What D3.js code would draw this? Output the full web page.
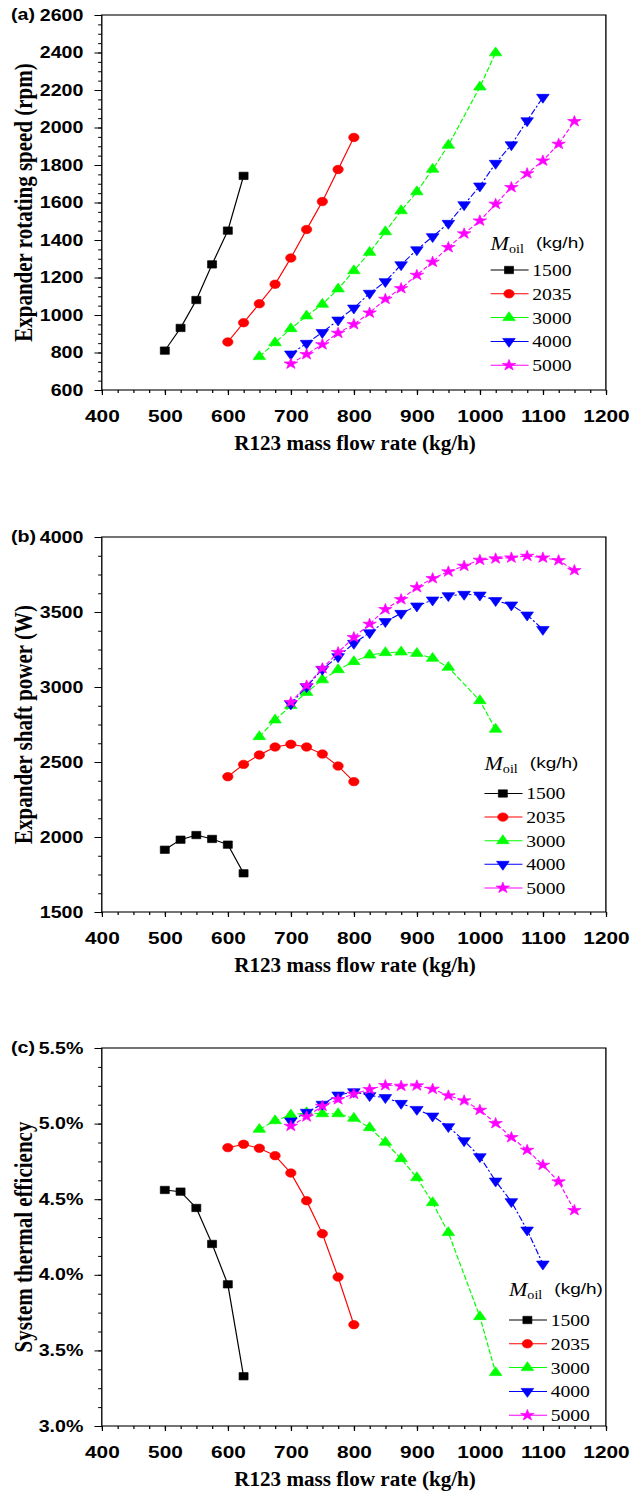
<!DOCTYPE html>
<html>
<head>
<meta charset="utf-8">
<script src="https://cdn.jsdelivr.net/npm/d3@7"></script>
<style>
  body { margin: 0; background: #fff; }
  svg { display: block; }
</style>
</head>
<body>
<script>
// R123 mass flow rate (kg/h) for each oil flow series
var flow1500 = [500, 525, 550, 575, 600, 625];
var flow2035 = [600, 625, 650, 675, 700, 725, 750, 775, 800];
var flow3000 = [650, 675, 700, 725, 750, 775, 800, 825, 850, 875, 900, 925, 950, 1000, 1025];
var flow4000 = [700, 725, 750, 775, 800, 825, 850, 875, 900, 925, 950, 975, 1000, 1025, 1050, 1075, 1100];
var flow5000 = [700, 725, 750, 775, 800, 825, 850, 875, 900, 925, 950, 975, 1000, 1025, 1050, 1075, 1100, 1125, 1150];

// (a) expander rotating speed (rpm)
var speed1500 = [810, 931, 1080, 1270, 1450, 1742];
var speed2035 = [856, 959, 1060, 1164, 1304, 1456, 1605, 1776, 1947];
var speed3000 = [778, 852, 927, 995, 1057, 1139, 1236, 1334, 1444, 1556, 1657, 1777, 1905, 2216, 2398];
var speed4000 = [792, 849, 907, 973, 1037, 1116, 1178, 1268, 1348, 1418, 1489, 1588, 1688, 1809, 1908, 2036, 2161];
var speed5000 = [740, 790, 843, 904, 950, 1012, 1085, 1142, 1213, 1283, 1361, 1434, 1503, 1592, 1681, 1755, 1823, 1912, 2033];

// (b) expander shaft power (W)
var power1500 = [1915, 1982, 2013, 1987, 1949, 1758];
var power2035 = [2402, 2484, 2547, 2600, 2618, 2600, 2553, 2473, 2369];
var power3000 = [2669, 2780, 2876, 2964, 3048, 3115, 3169, 3213, 3229, 3233, 3224, 3191, 3131, 2909, 2718];
var power4000 = [2887, 3002, 3118, 3202, 3291, 3362, 3436, 3491, 3540, 3580, 3609, 3618, 3613, 3576, 3547, 3480, 3384];
var power5000 = [2898, 3009, 3124, 3231, 3331, 3420, 3518, 3584, 3664, 3724, 3769, 3807, 3847, 3856, 3862, 3873, 3862, 3844, 3778];

// (c) system thermal efficiency (%)
var eff1500 = [4.561, 4.550, 4.442, 4.204, 3.937, 3.329];
var eff2035 = [4.841, 4.863, 4.837, 4.788, 4.673, 4.490, 4.272, 3.985, 3.670];
var eff3000 = [4.962, 5.019, 5.057, 5.072, 5.065, 5.065, 5.035, 4.973, 4.876, 4.768, 4.642, 4.477, 4.279, 3.723, 3.353];
var eff4000 = [5.017, 5.075, 5.128, 5.189, 5.211, 5.185, 5.172, 5.134, 5.094, 5.050, 4.980, 4.887, 4.781, 4.620, 4.484, 4.296, 4.071];
var eff5000 = [4.984, 5.046, 5.116, 5.160, 5.196, 5.227, 5.253, 5.249, 5.251, 5.229, 5.185, 5.152, 5.090, 5.002, 4.909, 4.825, 4.726, 4.616, 4.427];

var seriesNames = ['1500', '2035', '3000', '4000', '5000'];
var flowTicks = [400, 500, 600, 700, 800, 900, 1000, 1100, 1200];
var speedTicks = [600, 800, 1000, 1200, 1400, 1600, 1800, 2000, 2200, 2400, 2600];
var powerTicks = [1500, 2000, 2500, 3000, 3500, 4000];
var effTicks = [3.0, 3.5, 4.0, 4.5, 5.0, 5.5];

var colors = ['#000000', '#ff0000', '#00ff00', '#0000ff', '#ff00ff'];
var dashes = [null, null, '5,2', '6,2,2,2', '4,2'];
var flows = [flow1500, flow2035, flow3000, flow4000, flow5000];

// the figure is drawn in a narrower frame and stretched sideways, like the source image
var W = 641, H = 1493;
var stretch = 1.2265;
var left = 83, right = 494;
var tickFont = '"Liberation Sans Narrow", "Arial Narrow", "Liberation Sans", Arial, sans-serif';
var serif = '"Liberation Serif", "Times New Roman", serif';

var svg = d3.select('body').append('svg')
    .attr('width', W)
    .attr('height', H);
svg.append('rect').attr('width', W).attr('height', H).attr('fill', '#fff');
var root = svg.append('g').attr('transform', 'scale(' + stretch + ',1)');

function marker(sel, i, x, y) {
    var types = [d3.symbolSquare, d3.symbolCircle, d3.symbolTriangle, d3.symbolTriangle, d3.symbolStar];
    var sizes = [54, 56, 46, 46, 38];
    sel.append('path')
	.attr('d', d3.symbol().type(types[i]).size(sizes[i]))
	.attr('transform', 'translate(' + x + ',' + y + ')' + (i == 3 ? ' rotate(180)' : ''))
	.attr('fill', colors[i])
	.attr('stroke', colors[i])
	.attr('stroke-width', 0.6);
}

function drawPanel(cfg) {
    var g = root.append('g');
    var x = d3.scaleLinear().domain([400, 1200]).range([left, right]);
    var y = d3.scaleLinear().domain(cfg.domain).range([cfg.bottom, cfg.top]);

    // minor ticks
    g.append('g')
	.attr('transform', 'translate(' + left + ',0)')
	.call(d3.axisLeft(y).tickValues(d3.range(cfg.domain[0], cfg.domain[1] + 1e-9, cfg.minor)).tickSize(3).tickFormat(''))
	.call(function(a) { a.select('.domain').remove(); });
    g.append('g')
	.attr('transform', 'translate(0,' + cfg.bottom + ')')
	.call(d3.axisBottom(x).tickValues(d3.range(400, 1201, 25)).tickSize(3).tickFormat(''))
	.call(function(a) { a.select('.domain').remove(); });

    // major ticks
    var ya = g.append('g')
	.attr('transform', 'translate(' + left + ',0)')
	.call(d3.axisLeft(y).tickValues(cfg.ticks).tickSize(6).tickPadding(9).tickFormat(cfg.format));
    ya.select('.domain').remove();
    ya.selectAll('text')
	.style('font-family', tickFont)
	.style('font-weight', 'bold')
	.style('font-size', '16px')
	.attr('fill', '#000');

    var xa = g.append('g')
	.attr('transform', 'translate(0,' + cfg.bottom + ')')
	.call(d3.axisBottom(x).tickValues(flowTicks).tickSize(5).tickFormat(d3.format('d')));
    xa.select('.domain').remove();
    xa.selectAll('text')
	.attr('y', 32)
	.attr('dy', 0)
	.style('font-family', tickFont)
	.style('font-weight', 'bold')
	.style('font-size', '17px')
	.attr('fill', '#000');

    g.selectAll('.tick line').attr('stroke', '#000');

    // frame
    g.append('rect')
	.attr('x', left).attr('y', cfg.top)
	.attr('width', right - left).attr('height', cfg.bottom - cfg.top)
	.attr('fill', 'none')
	.attr('stroke', '#000')
	.attr('stroke-width', 1.1);

    // panel label
    g.append('text')
	.attr('x', 9).attr('y', cfg.top + 5)
	.style('font-family', '"Liberation Sans", Arial, sans-serif')
	.style('font-weight', 'bold')
	.style('font-size', '16px')
	.text(cfg.label);

    // axis titles
    g.append('text')
	.attr('transform', 'translate(26,' + ((cfg.top + cfg.bottom) / 2) + ') rotate(-90)')
	.attr('text-anchor', 'middle')
	.style('font-family', serif)
	.style('font-weight', 'bold')
	.style('font-size', '21px')
	.text(cfg.ytitle);

    g.append('text')
	.attr('x', (left + right) / 2 + 1)
	.attr('y', cfg.bottom + 60)
	.attr('text-anchor', 'middle')
	.attr('textLength', 197)
	.attr('lengthAdjust', 'spacingAndGlyphs')
	.style('font-family', serif)
	.style('font-weight', 'bold')
	.style('font-size', '20px')
	.text('R123 mass flow rate (kg/h)');

    // series
    var line = d3.line()
	.x(function(d) { return x(d[0]); })
	.y(function(d) { return y(d[1]); });

    cfg.values.forEach(function(vals, i) {
	var pts = flows[i].map(function(f, k) { return [f, vals[k]]; });
	g.append('path')
	    .datum(pts)
	    .attr('d', line)
	    .attr('fill', 'none')
	    .attr('stroke', colors[i])
	    .attr('stroke-width', 1)
	    .attr('stroke-dasharray', dashes[i]);
	pts.forEach(function(p) {
	    marker(g, i, x(p[0]), y(p[1]));
	});
    });

    // legend
    var L = cfg.legend;
    var head = g.append('text')
	.attr('x', L.x)
	.attr('y', L.headY)
	.style('font-family', serif)
	.style('font-size', '18px');
    head.append('tspan').style('font-style', 'italic').text('M');
    head.append('tspan').attr('dy', 3).style('font-size', '11.5px').text('oil');
    g.append('text')
	.attr('x', L.x + 37)
	.attr('y', L.headY - 2)
	.style('font-family', '"Liberation Sans", Arial, sans-serif')
	.style('font-size', '15.5px')
	.text('(kg/h)');

    seriesNames.forEach(function(name, i) {
	var ry = L.rowY + i * L.step;
	g.append('line')
	    .attr('x1', L.x).attr('x2', L.x + 31)
	    .attr('y1', ry).attr('y2', ry)
	    .attr('stroke', colors[i])
	    .attr('stroke-width', 1);
	marker(g, i, L.x + 15, ry);
	g.append('text')
	    .attr('x', L.x + 34)
	    .attr('y', ry + 6)
	    .style('font-family', serif)
	    .style('font-size', '16px')
	    .text(name);
    });
}

drawPanel({
    label: '(a)', top: 15, bottom: 390, domain: [600, 2600],
    ticks: speedTicks, minor: 50, format: d3.format('d'),
    ytitle: 'Expander rotating speed (rpm)',
    values: [speed1500, speed2035, speed3000, speed4000, speed5000],
    legend: { x: 400, headY: 250, rowY: 270, step: 23.8 }
});

drawPanel({
    label: '(b)', top: 537, bottom: 912, domain: [1500, 4000],
    ticks: powerTicks, minor: 125, format: d3.format('d'),
    ytitle: 'Expander shaft power (W)',
    values: [power1500, power2035, power3000, power4000, power5000],
    legend: { x: 395, headY: 770, rowY: 793.5, step: 23.6 }
});

drawPanel({
    label: '(c)', top: 1048, bottom: 1426, domain: [3.0, 5.5],
    ticks: effTicks, minor: 0.125, format: function(d) { return d.toFixed(1) + '%'; },
    ytitle: 'System thermal efficiency',
    values: [eff1500, eff2035, eff3000, eff4000, eff5000],
    legend: { x: 415, headY: 1296.5, rowY: 1320, step: 23.8 }
});
</script>
</body>
</html>
